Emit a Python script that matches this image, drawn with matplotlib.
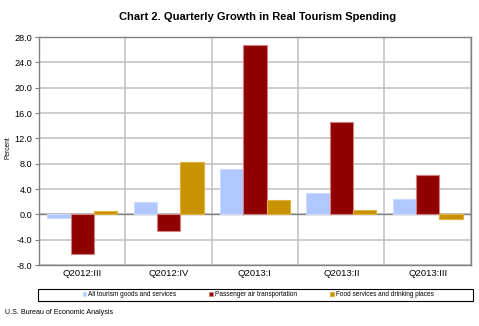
import matplotlib
matplotlib.use("Agg")
import matplotlib.pyplot as plt
from matplotlib.patches import Rectangle
import numpy as np

plt.rcParams['font.family'] = ['Liberation Sans', 'DejaVu Sans']

quarters = ["Q2012:III", "Q2012:IV", "Q2013:I", "Q2013:II", "Q2013:III"]
all_tourism = [-0.6, 2.0, 7.2, 3.4, 2.5]
air_transport = [-6.2, -2.7, 26.7, 14.6, 6.2]
food_services = [0.6, 8.3, 2.2, 0.7, -0.7]

series_names = ["All tourism goods and services",
                "Passenger air transportation",
                "Food services and drinking places"]
y_ticks = [-8, -4, 0, 4, 8, 12, 16, 20, 24, 28]

colors = ["#B0C8FF", "#900000", "#C89200"]
edges = ["#C8DCFF", "#D08080", "#E0B040"]

fig = plt.figure(figsize=(4.79, 3.26), dpi=100)
ax = fig.add_axes([0.0814, 0.187, 0.9016, 0.6995])

x = np.arange(len(quarters))
w = 0.27
bars = []
for i, vals in enumerate([all_tourism, air_transport, food_services]):
    b = ax.bar(x + (i - 1) * w, vals, w, color=colors[i], edgecolor=edges[i],
               linewidth=0.8, label=series_names[i], zorder=3)
    bars.append(b)

ax.set_xlim(-0.5, len(quarters) - 0.5)
ax.set_ylim(-8, 28)
ax.set_yticks(y_ticks)
ax.set_yticklabels([f"{v:.1f}" for v in y_ticks])
ax.set_xticks(x)
ax.set_xticklabels(quarters)
ax.set_xticks(np.arange(len(quarters) + 1) - 0.5, minor=True)

ax.tick_params(axis='x', which='major', length=0, labelsize=6.8, pad=3)
ax.tick_params(axis='x', which='minor', length=0)
ax.tick_params(axis='y', length=3, width=0.8, color="#808080", labelsize=6.6, pad=2)

ax.grid(axis='y', which='major', color="#C0C0C0", linewidth=1.1, zorder=0)
ax.grid(axis='x', which='minor', color="#C0C0C0", linewidth=1.1, zorder=0)
ax.axhline(0, color="#808080", linewidth=1.0, zorder=2)
for s in ax.spines.values():
    s.set_color("#808080")
    s.set_linewidth(1.0)

# y label placed by hand so it stays inside the figure
fig.text(8 / 479, 1 - 148 / 326, "Percent", fontsize=4.8, rotation=90,
         ha='center', va='center')

fig.text(0.5376, 1 - 17 / 326, "Chart 2. Quarterly Growth in Real Tourism Spending",
         fontsize=8, fontweight='bold', ha='center', va='center')

# legend box
fig.patches.append(Rectangle((38 / 479, 1 - 301 / 326), 435 / 479, 12 / 326,
                             transform=fig.transFigure, fill=False,
                             edgecolor="#000000", linewidth=0.8))
leg = fig.legend(handles=bars, labels=series_names, loc='center',
                 bbox_to_anchor=(258 / 479, 1 - 295 / 326),
                 ncol=3, fontsize=4.7, frameon=False,
                 handlelength=0.6, handleheight=0.6, handletextpad=0.3,
                 columnspacing=5.0, borderpad=0, borderaxespad=0)

fig.text(5 / 479, 1 - 313 / 326, "U.S. Bureau of Economic Analysis",
         fontsize=5.1, va='center')

fig.savefig("out.png", dpi=100)
